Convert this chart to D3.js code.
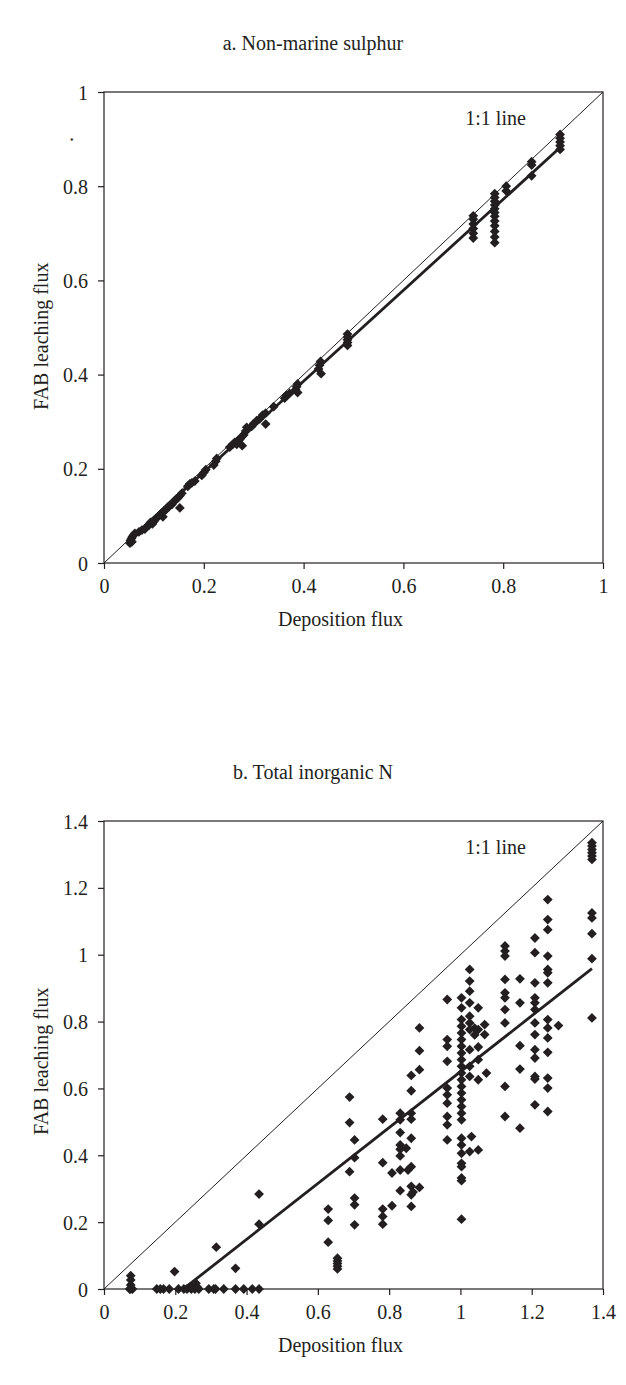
<!DOCTYPE html>
<html>
<head>
<meta charset="utf-8">
<script src="https://cdn.jsdelivr.net/npm/d3@7"></script>
<style>
  body { margin: 0; background: #fff; }
  text { font-family: "Liberation Serif", "Times New Roman", serif; fill: #231f20; }
</style>
</head>
<body>
<svg id="chart" width="626" height="1385"></svg>
<script>
// Panel a: non-marine sulphur, [deposition, FAB leaching]
const sulphurPoints = [
  [.052,.042],[.053,.048],[.055,.052],[.057,.056],[.060,.060],[.056,.045],[.062,.063],
  [.070,.066],[.076,.070],[.082,.072],
  [.090,.080],[.093,.086],[.097,.083],[.100,.088],
  [.106,.096],[.110,.100],[.114,.104],[.118,.098],[.120,.110],
  [.124,.113],[.128,.118],[.132,.122],[.136,.124],
  [.140,.130],[.144,.135],[.148,.138],[.152,.143],[.156,.148],[.152,.117],
  [.168,.163],[.172,.168],[.176,.170],[.182,.174],
  [.196,.186],[.200,.192],[.204,.198],
  [.220,.208],[.224,.216],[.226,.222],
  [.252,.246],[.258,.252],[.262,.256],[.268,.260],[.272,.262],[.276,.268],[.280,.272],[.284,.280],[.286,.288],[.277,.249],[.266,.252],
  [.296,.290],[.300,.296],[.306,.302],[.312,.306],[.318,.314],[.324,.295],[.324,.318],
  [.340,.332],
  [.362,.350],[.366,.356],[.372,.360],[.384,.368],[.386,.374],[.388,.380],[.388,.362],
  [.430,.412],[.432,.420],[.434,.428],[.435,.402],
  [.488,.462],[.488,.468],[.488,.474],[.488,.480],[.488,.486],
  [.740,.690],[.740,.700],[.740,.710],[.740,.720],[.740,.730],[.740,.737],
  [.783,.680],[.783,.692],[.783,.704],[.783,.716],[.783,.726],[.783,.736],[.783,.744],[.783,.752],[.783,.760],[.783,.768],[.783,.776],[.783,.784],
  [.806,.790],[.806,.800],
  [.857,.822],[.857,.845],[.857,.852],
  [.914,.878],[.914,.886],[.914,.894],[.914,.902],[.914,.910]
]

// Panel b: total inorganic N, [deposition, FAB leaching]
const nitrogenPoints = [
  [.075,.040],[.075,.027],[.075,.012],[.075,0],[.080,0],[.072,0],
  [.148,0],[.158,0],[.167,0],[.183,0],[.198,.052],[.209,0],[.224,0],
  [.233,0],[.240,.005],[.245,0],[.250,.010],[.255,0],[.258,.017],[.262,.005],[.266,0],
  [.294,0],[.308,0],[.313,0],[.336,0],[.315,.125],[.369,.062],
  [.369,0],[.392,0],[.416,0],[.435,0],[.435,.284],[.435,.194],
  [.629,.239],[.629,.205],[.629,.140],
  [.655,.092],[.655,.084],[.655,.076],[.655,.068],[.655,.060],
  [.689,.574],[.689,.498],[.689,.351],
  [.703,.446],[.703,.393],[.703,.272],[.703,.252],[.703,.192],
  [.782,.508],[.782,.378],[.782,.239],[.782,.217],[.782,.194],
  [.808,.347],[.808,.249],
  [.831,.526],[.831,.506],[.831,.468],[.831,.431],[.831,.418],[.831,.398],[.831,.356],[.831,.294],
  [.848,.421],[.853,.356],
  [.862,.526],[.862,.508],[.862,.451],[.862,.366],[.862,.307],[.862,.282],[.862,.247],[.862,.639],[.862,.593],[.867,.290],
  [.885,.781],[.885,.713],[.885,.656],[.885,.304],
  [.963,.866],[.963,.746],[.963,.726],[.963,.681],[.963,.601],[.963,.581],[.963,.556],[.963,.516],[.963,.491],[.963,.446],
  [1.003,.871],[1.003,.841],[1.003,.806],[1.003,.786],[1.003,.766],[1.003,.746],[1.003,.726],[1.003,.706],[1.003,.686],
  [1.003,.666],[1.003,.646],[1.003,.626],[1.003,.606],[1.003,.586],[1.003,.566],[1.003,.546],[1.003,.526],[1.003,.506],
  [1.003,.451],[1.003,.431],[1.003,.406],[1.003,.376],[1.003,.366],[1.003,.332],[1.003,.324],[1.003,.209],
  [1.026,.956],[1.026,.921],[1.026,.891],[1.026,.856],[1.026,.816],[1.026,.796],[1.026,.776],[1.026,.716],[1.026,.666],[1.026,.636],[1.031,.456],[1.026,.411],
  [1.040,.780],[1.040,.760],
  [1.050,.841],[1.050,.776],[1.050,.724],[1.050,.686],[1.050,.626],[1.050,.416],[1.068,.791],[1.068,.761],[1.073,.646],
  [1.125,1.026],[1.125,1.011],[1.125,.996],[1.125,.926],[1.125,.886],[1.125,.871],[1.125,.836],[1.125,.796],[1.125,.606],[1.125,.516],
  [1.167,.928],[1.167,.856],[1.167,.728],[1.167,.658],[1.167,.481],
  [1.209,1.050],[1.209,1.006],[1.209,.916],[1.209,.871],[1.209,.856],[1.209,.836],[1.209,.796],[1.209,.761],[1.209,.716],[1.209,.691],[1.209,.636],[1.209,.628],[1.209,.551],
  [1.245,1.165],[1.245,1.105],[1.245,1.075],[1.245,.996],[1.245,.956],[1.245,.946],[1.245,.916],[1.245,.806],[1.245,.781],[1.245,.751],[1.245,.708],[1.245,.631],[1.245,.601],[1.245,.531],[1.275,.788],
  [1.369,1.335],[1.369,1.325],[1.369,1.315],[1.369,1.305],[1.369,1.295],[1.369,1.285],[1.369,1.125],[1.369,1.110],[1.369,1.063],[1.369,.988],[1.369,.811]
]

// fitted lines: [slope, intercept, xFrom, xTo]
const sulphurFit = [0.965, 0.0, 0.052, 0.914]
const nitrogenFit = [0.836, -0.186, 0.223, 1.369]

const sulphurTicks = [0, 0.2, 0.4, 0.6, 0.8, 1]
const nitrogenTicks = [0, 0.2, 0.4, 0.6, 0.8, 1, 1.2, 1.4]

const ink = '#231f20'
const svg = d3.select('#chart')
const diamond = d3.symbol().type(d3.symbolSquare).size(48)

const drawPanel = (opt) => {
  const {top, bottom, left, right, max, ticks, points, fit, title, ylabelY, stray} = opt
  const x = d3.scaleLinear().domain([0, max]).range([left, right])
  const y = d3.scaleLinear().domain([0, max]).range([bottom, top])
  const g = svg.append('g')

  // title
  g.append('text').attr('x', 313).attr('y', top - 42)
    .attr('text-anchor', 'middle').style('font-size', '20px').text(title)

  // frame
  g.append('rect').attr('x', left).attr('y', top)
    .attr('width', right - left).attr('height', bottom - top)
    .attr('fill', 'none').attr('stroke', ink).attr('stroke-width', 1.2)

  const fmt = d => d3.format('~g')(d)
  const xAxis = g.append('g').attr('transform', `translate(0,${bottom})`)
    .call(d3.axisBottom(x).tickValues(ticks).tickFormat(fmt).tickSize(6).tickPadding(6))
  const yAxis = g.append('g').attr('transform', `translate(${left},0)`)
    .call(d3.axisLeft(y).tickValues(ticks).tickFormat(fmt).tickSize(6).tickPadding(10))
  ;[xAxis, yAxis].forEach(a => {
    a.select('.domain').remove()
    a.selectAll('line').attr('stroke', ink).attr('stroke-width', 1.2)
    a.selectAll('text').style('font-size', '20px').style('font-family', '"Liberation Serif", serif').attr('fill', ink)
  })
  xAxis.selectAll('text').attr('dy', '0.9em')
  yAxis.selectAll('text').attr('dy', '0.35em')

  // 1:1 line
  g.append('line')
    .attr('x1', x(0)).attr('y1', y(0)).attr('x2', x(max)).attr('y2', y(max))
    .attr('stroke', ink).attr('stroke-width', 1)
  g.append('text').attr('x', x(max * 0.724)).attr('y', top + 33)
    .style('font-size', '20px').text('1:1 line')

  // points
  g.append('g').selectAll('path').data(points).join('path')
    .attr('d', diamond)
    .attr('transform', d => `translate(${x(d[0])},${y(d[1])}) rotate(45)`)
    .attr('fill', ink)

  // fitted line
  const [slope, icpt, x0, x1] = fit
  g.append('line')
    .attr('x1', x(x0)).attr('y1', y(slope * x0 + icpt))
    .attr('x2', x(x1)).attr('y2', y(slope * x1 + icpt))
    .attr('stroke', ink).attr('stroke-width', 2.8)

  // axis labels
  g.append('text').attr('x', (left + right) / 2 - 13).attr('y', bottom + 63)
    .attr('text-anchor', 'middle').style('font-size', '20px').text('Deposition flux')
  g.append('text')
    .attr('transform', `translate(48,${ylabelY}) rotate(-90)`)
    .attr('text-anchor', 'start').style('font-size', '20px')
    .text('FAB leaching flux')
  if (stray) {
    g.append('text')
      .attr('transform', `translate(${stray[0]},${stray[1]}) rotate(-90)`)
      .style('font-size', '20px').text('.')
  }
}

drawPanel({top: 92, bottom: 563, left: 104, right: 603, max: 1, ticks: sulphurTicks,
  points: sulphurPoints, fit: sulphurFit, title: 'a. Non-marine sulphur',
  ylabelY: 410, stray: [73, 142]})

drawPanel({top: 821, bottom: 1289, left: 104, right: 603, max: 1.4, ticks: nitrogenTicks,
  points: nitrogenPoints, fit: nitrogenFit, title: 'b. Total inorganic N',
  ylabelY: 1135})
</script>
</body>
</html>
